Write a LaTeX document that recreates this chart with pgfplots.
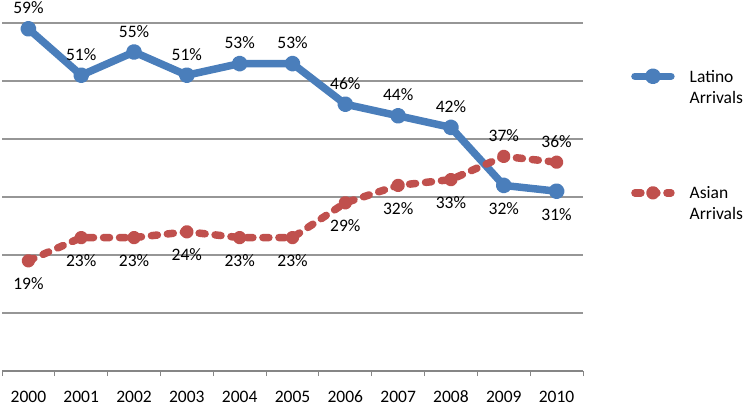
\documentclass[border=0pt]{standalone}
\usepackage{fontspec}
\setmainfont{Carlito}
\usepackage{pgfplots}
\pgfplotsset{compat=1.18}
\definecolor{lat}{RGB}{74,126,187}
\definecolor{asi}{RGB}{192,80,77}
\definecolor{grd}{RGB}{134,134,134}
\definecolor{grl}{RGB}{150,150,150}
\begin{document}
\begin{tikzpicture}[font=\fontsize{17.5bp}{21bp}\selectfont]
\useasboundingbox (-2bp,-34bp) rectangle (741bp,371bp);
\begin{axis}[
  at={(0,0)}, anchor=south west,
  scale only axis, width=581bp, height=348bp,
  xmin=-0.5, xmax=10.5, ymin=0, ymax=60,
  /pgf/number format/assume math mode=true,
  axis x line*=bottom, axis y line*=left,
  y axis line style={draw=none},
  x axis line style={grd, line width=1.6bp, -},
  xtick={0,...,10},
  xticklabels={2000,2001,2002,2003,2004,2005,2006,2007,2008,2009,2010},
  major x tick style={draw=none},
  minor xtick={-0.5,0.5,...,10.5},
  minor x tick style={grd, line width=1bp},
  minor tick length=5bp, tick align=outside,
  xticklabel style={anchor=base, yshift=-27bp, inner sep=0pt},
  ytick={10,20,...,60}, yticklabels={},
  major y tick style={draw=none},
  ymajorgrids, y grid style={grl, line width=1.3bp},
  clip=false,
  legend image code/.code={\draw[#1, mark repeat=2, mark phase=2] plot coordinates {(0bp,6bp) (18bp,6bp) (36bp,6bp)};},
  legend style={draw=none, fill=none, at={(1.0826,0.865)}, anchor=north west,
    row sep=103bp, column sep=0bp, inner sep=0pt,
    nodes={inner sep=0pt, anchor=base west}},
  legend cell align=left,
  every node near coord/.append style={inner sep=0pt, black},
]
\addplot[lat, line width=7.5bp, line cap=round, line join=round, mark=*, mark size=4.2bp, mark options={solid}]
  coordinates {(0,59) (1,51) (2,55) (3,51) (4,53) (5,53) (6,46) (7,44) (8,42) (9,32) (10,31)};
\addlegendentry{\hspace{15bp}\vtop{\hbox{Latino}\hbox{Arrivals}}}
\addplot[asi, line width=7.5bp, line cap=round, line join=round, dash pattern=on 6bp off 10bp, mark=*, mark size=3bp, mark options={solid}]
  coordinates {(0,19) (1,23) (2,23) (3,24) (4,23) (5,23) (6,29) (7,32) (8,33) (9,37) (10,36)};
\addlegendentry{\hspace{15bp}\vtop{\hbox{Asian}\hbox{Arrivals}}}
% labels above
\addplot[draw=none, forget plot, nodes near coords={\pgfmathprintnumber{\pgfplotspointmeta}\%},
  every node near coord/.append style={anchor=base, yshift=15bp}]
  coordinates {(0,59) (1,51) (2,55) (3,51) (4,53) (5,53) (6,46) (7,44) (8,42) (9,37) (10,36)};
% labels below
\addplot[draw=none, forget plot, nodes near coords={\pgfmathprintnumber{\pgfplotspointmeta}\%},
  every node near coord/.append style={anchor=base, yshift=-29bp}]
  coordinates {(0,19) (1,23) (2,23) (3,24) (4,23) (5,23) (6,29) (7,32) (8,33) (9,32) (10,31)};
\end{axis}
\end{tikzpicture}
\end{document}
